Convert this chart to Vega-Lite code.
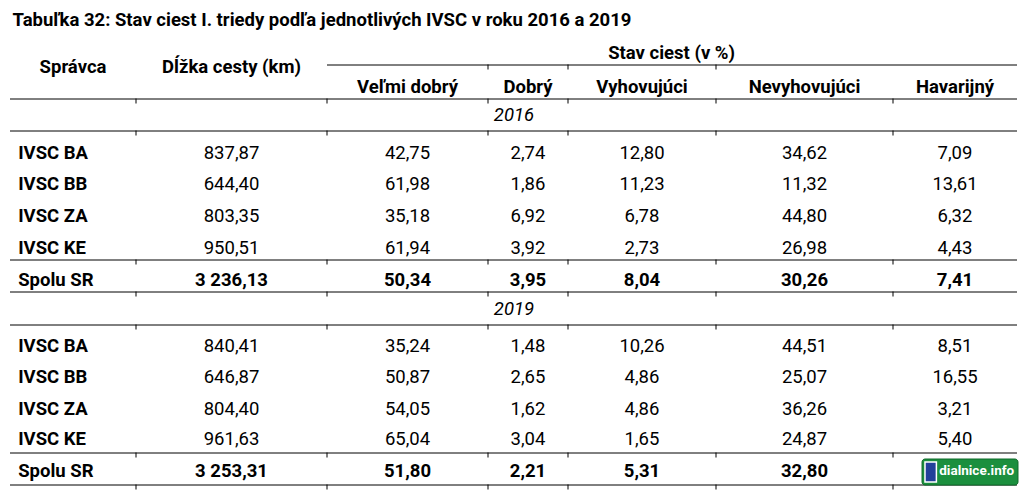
{
  "$schema": "https://vega.github.io/schema/vega-lite/v6.json",
  "width": 1028,
  "height": 492,
  "autosize": {"type": "none"},
  "padding": 0,
  "background": "white",
  "config": {
    "view": {"stroke": null},
    "axis": {"disable": true},
    "locale": {"number": {"decimal": ",", "thousands": " ", "grouping": [3], "currency": ["", " €"]}},
    "text": {"font": "Liberation Sans Narrow, Arial Narrow, Roboto, sans-serif", "fontSize": 18.5, "color": "#000000"}
  },
  "datasets": {
    "rows": [
      {"rok": "2016"},
      {"rok": "2016", "spravca": "IVSC BA", "dlzka": 837.87, "velmi": 42.75, "dobry": 2.74, "vyhov": 12.80, "nevyhov": 34.62, "havar": 7.09},
      {"rok": "2016", "spravca": "IVSC BB", "dlzka": 644.40, "velmi": 61.98, "dobry": 1.86, "vyhov": 11.23, "nevyhov": 11.32, "havar": 13.61},
      {"rok": "2016", "spravca": "IVSC ZA", "dlzka": 803.35, "velmi": 35.18, "dobry": 6.92, "vyhov": 6.78, "nevyhov": 44.80, "havar": 6.32},
      {"rok": "2016", "spravca": "IVSC KE", "dlzka": 950.51, "velmi": 61.94, "dobry": 3.92, "vyhov": 2.73, "nevyhov": 26.98, "havar": 4.43},
      {"rok": "2016", "spravca": "Spolu SR", "dlzka": 3236.13, "velmi": 50.34, "dobry": 3.95, "vyhov": 8.04, "nevyhov": 30.26, "havar": 7.41},
      {"rok": "2019"},
      {"rok": "2019", "spravca": "IVSC BA", "dlzka": 840.41, "velmi": 35.24, "dobry": 1.48, "vyhov": 10.26, "nevyhov": 44.51, "havar": 8.51},
      {"rok": "2019", "spravca": "IVSC BB", "dlzka": 646.87, "velmi": 50.87, "dobry": 2.65, "vyhov": 4.86, "nevyhov": 25.07, "havar": 16.55},
      {"rok": "2019", "spravca": "IVSC ZA", "dlzka": 804.40, "velmi": 54.05, "dobry": 1.62, "vyhov": 4.86, "nevyhov": 36.26, "havar": 3.21},
      {"rok": "2019", "spravca": "IVSC KE", "dlzka": 961.63, "velmi": 65.04, "dobry": 3.04, "vyhov": 1.65, "nevyhov": 24.87, "havar": 5.40},
      {"rok": "2019", "spravca": "Spolu SR", "dlzka": 3253.31, "velmi": 51.80, "dobry": 2.21, "vyhov": 5.31, "nevyhov": 32.80, "havar": null}
    ],
    "cols": [
      {"key": "dlzka", "c": 1.5},
      {"key": "velmi", "c": 2.5},
      {"key": "dobry", "c": 3.5},
      {"key": "vyhov", "c": 4.5},
      {"key": "nevyhov", "c": 5.5},
      {"key": "havar", "c": 6.5}
    ],
    "lines": [
      {"r": -0.5, "a": 2, "b": 7, "t": [3, 4, 5]},
      {"r": 0.5, "a": 0, "b": 7, "t": [1, 2, 3, 4, 5, 6]},
      {"r": 1.5, "a": 0, "b": 7, "t": [1, 2, 3, 4, 5, 6]},
      {"r": 5.5, "a": 0, "b": 7, "t": [1, 2, 3, 4, 5, 6]},
      {"r": 6.5, "a": 0, "b": 7, "t": [1, 2, 3, 4, 5, 6]},
      {"r": 7.5, "a": 0, "b": 7, "t": [1, 2, 3, 4, 5, 6]},
      {"r": 11.5, "a": 0, "b": 7, "t": [1, 2, 3, 4, 5, 6]},
      {"r": 12.5, "a": 0, "b": 7, "t": [1, 2, 3, 4, 5, 6]}
    ],
    "headers": [
      {"t": "Správca", "c": 0.5, "r": -0.45},
      {"t": "Dĺžka cesty (km)", "c": 1.5, "r": -0.45},
      {"t": "Stav ciest (v %)", "c": 4.7, "r": -1},
      {"t": "Veľmi dobrý", "c": 2.5, "r": 0},
      {"t": "Dobrý", "c": 3.5, "r": 0},
      {"t": "Vyhovujúci", "c": 4.5, "r": 0},
      {"t": "Nevyhovujúci", "c": 5.5, "r": 0},
      {"t": "Havarijný", "c": 6.5, "r": 0}
    ],
    "title": [
      {"t": "Tabuľka 32: Stav ciest I. triedy podľa jednotlivých IVSC v roku 2016 a 2019", "c": 0.02, "r": -2}
    ],
    "logo": [
      {"x1": 6.234, "x2": 7.008, "y1": 11.667, "y2": 12.5}
    ],
    "logoicon": [
      {"x1": 6.258, "x2": 6.35, "y1": 11.75, "y2": 12.39}
    ],
    "logotext": [
      {"t": "dialnice.info", "c": 6.373, "r": 12.0}
    ]
  },
  "layer": [
    {
      "data": {"name": "lines"},
      "mark": {"type": "rule", "color": "#000000", "strokeWidth": 1},
      "encoding": {
        "x": {"field": "a", "type": "quantitative", "scale": {"type": "linear", "domain": [0, 1, 2, 3, 4, 5, 6, 7], "range": [10, 136, 327, 488, 568, 716, 893, 1017], "zero": false, "nice": false}},
        "x2": {"field": "b"},
        "y": {"field": "r", "type": "quantitative", "scale": {"type": "linear", "domain": [-2, -1, -0.5, -0.45, 0, 0.5, 1, 1.5, 2, 3, 4, 5, 5.5, 6, 6.5, 7, 7.5, 8, 9, 10, 11, 11.5, 12, 12.5], "range": [20, 53, 65, 67, 87, 99, 115, 131, 152.5, 184, 216, 247.5, 260, 280, 292, 309, 325, 346, 377, 409, 439, 453, 471, 485], "zero": false, "nice": false}}
      }
    },
    {
      "data": {"name": "lines"},
      "transform": [{"flatten": ["t"]}],
      "mark": {"type": "tick", "orient": "vertical", "color": "#000000", "size": 5, "thickness": 1, "yOffset": 2, "opacity": 1},
      "encoding": {
        "x": {"field": "t", "type": "quantitative", "scale": {"type": "linear", "domain": [0, 1, 2, 3, 4, 5, 6, 7], "range": [10, 136, 327, 488, 568, 716, 893, 1017], "zero": false, "nice": false}},
        "y": {"field": "r", "type": "quantitative", "scale": {"type": "linear", "domain": [-2, -1, -0.5, -0.45, 0, 0.5, 1, 1.5, 2, 3, 4, 5, 5.5, 6, 6.5, 7, 7.5, 8, 9, 10, 11, 11.5, 12, 12.5], "range": [20, 53, 65, 67, 87, 99, 115, 131, 152.5, 184, 216, 247.5, 260, 280, 292, 309, 325, 346, 377, 409, 439, 453, 471, 485], "zero": false, "nice": false}}
      }
    },
    {
      "data": {"name": "title"},
      "mark": {"type": "text", "align": "left", "baseline": "middle", "fontWeight": "bold"},
      "encoding": {
        "text": {"field": "t"},
        "x": {"field": "c", "type": "quantitative"},
        "y": {"field": "r", "type": "quantitative"}
      }
    },
    {
      "data": {"name": "headers"},
      "mark": {"type": "text", "align": "center", "baseline": "middle", "fontWeight": "bold"},
      "encoding": {
        "text": {"field": "t"},
        "x": {"field": "c", "type": "quantitative"},
        "y": {"field": "r", "type": "quantitative"}
      }
    },
    {
      "data": {"name": "rows"},
      "transform": [
        {"window": [{"op": "row_number", "as": "n"}]},
        {"filter": "!datum.spravca"}
      ],
      "mark": {"type": "text", "align": "center", "baseline": "middle", "fontStyle": "italic"},
      "encoding": {
        "text": {"field": "rok"},
        "x": {"datum": 3.325, "type": "quantitative"},
        "y": {"field": "n", "type": "quantitative"}
      }
    },
    {
      "data": {"name": "rows"},
      "transform": [
        {"window": [{"op": "row_number", "as": "n"}]},
        {"filter": "datum.spravca"}
      ],
      "mark": {"type": "text", "align": "left", "baseline": "middle", "fontWeight": "bold"},
      "encoding": {
        "text": {"field": "spravca"},
        "x": {"datum": 0.065, "type": "quantitative"},
        "y": {"field": "n", "type": "quantitative"}
      }
    },
    {
      "data": {"name": "rows"},
      "transform": [
        {"window": [{"op": "row_number", "as": "n"}]},
        {"filter": "datum.spravca && datum.spravca != 'Spolu SR'"},
        {"fold": ["dlzka", "velmi", "dobry", "vyhov", "nevyhov", "havar"], "as": ["key", "value"]},
        {"filter": "datum.value != null"},
        {"lookup": "key", "from": {"data": {"name": "cols"}, "key": "key", "fields": ["c"]}}
      ],
      "mark": {"type": "text", "align": "center", "baseline": "middle"},
      "encoding": {
        "text": {"field": "value", "type": "quantitative", "format": ",.2f"},
        "x": {"field": "c", "type": "quantitative"},
        "y": {"field": "n", "type": "quantitative"}
      }
    },
    {
      "data": {"name": "rows"},
      "transform": [
        {"window": [{"op": "row_number", "as": "n"}]},
        {"filter": "datum.spravca == 'Spolu SR'"},
        {"fold": ["dlzka", "velmi", "dobry", "vyhov", "nevyhov", "havar"], "as": ["key", "value"]},
        {"filter": "datum.value != null"},
        {"lookup": "key", "from": {"data": {"name": "cols"}, "key": "key", "fields": ["c"]}}
      ],
      "mark": {"type": "text", "align": "center", "baseline": "middle", "fontWeight": "bold"},
      "encoding": {
        "text": {"field": "value", "type": "quantitative", "format": ",.2f"},
        "x": {"field": "c", "type": "quantitative"},
        "y": {"field": "n", "type": "quantitative"}
      }
    },
    {
      "data": {"name": "logo"},
      "mark": {"type": "rect", "fill": "#1b8f3e", "stroke": "#0f6b2b", "strokeWidth": 1, "cornerRadius": 3},
      "encoding": {
        "x": {"field": "x1", "type": "quantitative"},
        "x2": {"field": "x2"},
        "y": {"field": "y1", "type": "quantitative"},
        "y2": {"field": "y2"}
      }
    },
    {
      "data": {"name": "logoicon"},
      "mark": {"type": "rect", "fill": "#22409a", "stroke": "#ffffff", "strokeWidth": 1.5},
      "encoding": {
        "x": {"field": "x1", "type": "quantitative"},
        "x2": {"field": "x2"},
        "y": {"field": "y1", "type": "quantitative"},
        "y2": {"field": "y2"}
      }
    },
    {
      "data": {"name": "logotext"},
      "mark": {"type": "text", "align": "left", "baseline": "middle", "fontWeight": "bold", "color": "#ffffff", "fontSize": 13.5},
      "encoding": {
        "text": {"field": "t"},
        "x": {"field": "c", "type": "quantitative"},
        "y": {"field": "r", "type": "quantitative"}
      }
    }
  ]
}
